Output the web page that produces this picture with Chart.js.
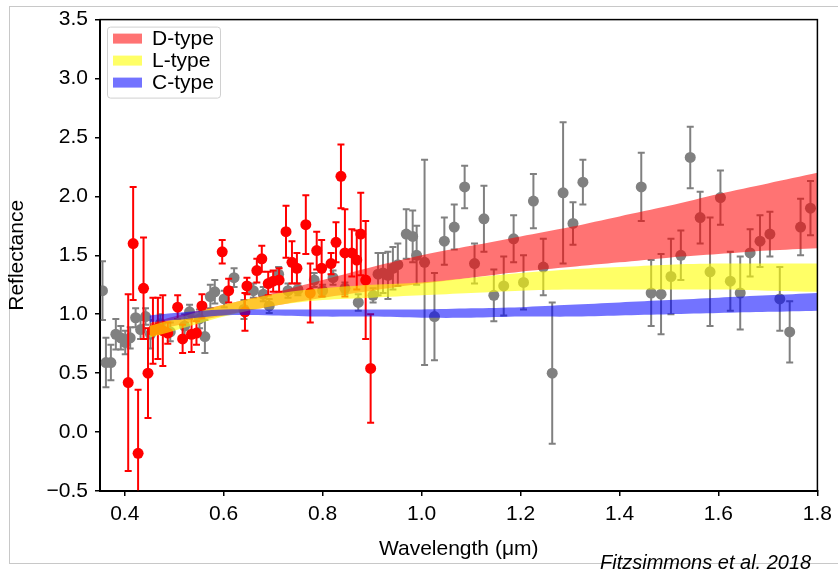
<!DOCTYPE html>
<html>
<head>
<meta charset="utf-8">
<script src="https://cdn.jsdelivr.net/npm/chart.js@4.4.1/dist/chart.umd.min.js"></script>
<style>
  body { margin: 0; background: #fff; }
  #wrap { position: relative; width: 838px; height: 575px; overflow: hidden; }
  #frame { position: absolute; left: 9px; top: 6px; width: 840px; height: 556px; border: 1px solid #c8c8c8; border-right: none; }
  #cite { position: absolute; left: 600px; top: 551px; font: italic 20px "Liberation Sans", Arial, sans-serif; color: #000; white-space: nowrap; }
  canvas { position: absolute; left: 0; top: 0; }
</style>
</head>
<body>
<div id="wrap">
  <div id="frame"></div>
  <canvas id="myChart" width="838" height="575"></canvas>
  <div id="cite">Fitzsimmons et al. 2018</div>
</div>
<script>
// tick positions
const xTicks = [0.4, 0.6, 0.8, 1.0, 1.2, 1.4, 1.6, 1.8];
const yTicks = [-0.5, 0.0, 0.5, 1.0, 1.5, 2.0, 2.5, 3.0, 3.5];

// gray measurements (wavelength, reflectance, error)
const grayX = [0.355, 0.362, 0.372, 0.382, 0.392, 0.401, 0.411, 0.422, 0.432, 0.442, 0.452, 0.472, 0.492,
  0.521, 0.531, 0.551, 0.562, 0.573, 0.582, 0.601, 0.621, 0.641, 0.66, 0.68, 0.692, 0.711, 0.73, 0.75,
  0.783, 0.80, 0.821, 0.845, 0.872, 0.902, 0.912, 0.922, 0.932, 0.942, 0.952, 0.969, 0.982, 0.99,
  1.006, 1.026, 1.046, 1.066, 1.087, 1.107, 1.126, 1.146, 1.166, 1.186, 1.206, 1.226, 1.246, 1.264,
  1.286, 1.306, 1.326, 1.444, 1.464, 1.484, 1.504, 1.524, 1.543, 1.563, 1.583, 1.604, 1.624, 1.644,
  1.664, 1.684, 1.704, 1.724, 1.744, 1.766, 1.786];
const grayY = [1.20, 0.59, 0.59, 0.83, 0.80, 0.76, 0.80, 0.97, 0.87, 0.98, 0.83, 0.92, 0.85,
  0.90, 1.02, 0.96, 0.81, 1.15, 1.19, 1.13, 1.31, 1.04, 1.20, 1.17, 1.07, 1.34, 1.20, 1.21,
  1.29, 1.20, 1.31, 1.22, 1.10, 1.16, 1.34, 1.35, 1.33, 1.39, 1.42, 1.68, 1.66, 1.50,
  1.44, 0.98, 1.62, 1.74, 2.08, 1.43, 1.81, 1.16, 1.24, 1.64, 1.27, 1.96, 1.40, 0.50,
  2.03, 1.77, 2.12, 2.08, 1.18, 1.17, 1.32, 1.50, 2.33, 1.82, 1.36, 1.99, 1.28, 1.18,
  1.52, 1.62, 1.68, 1.13, 0.85, 1.74, 1.90];
const grayErr = [0.25, 0.21, 0.15, 0.13, 0.10, 0.10, 0.09, 0.08, 0.08, 0.07, 0.12, 0.08, 0.08,
  0.10, 0.06, 0.08, 0.14, 0.10, 0.10, 0.07, 0.08, 0.08, 0.06, 0.06, 0.06, 0.06, 0.06, 0.05,
  0.06, 0.05, 0.06, 0.05, 0.07, 0.06, 0.18, 0.17, 0.20, 0.18, 0.18, 0.21, 0.22, 0.25,
  0.87, 0.37, 0.20, 0.19, 0.18, 0.17, 0.28, 0.22, 0.25, 0.20, 0.23, 0.23, 0.24, 0.60,
  0.60, 0.18, 0.19, 0.29, 0.28, 0.34, 0.32, 0.21, 0.26, 0.22, 0.46, 0.23, 0.25, 0.31,
  0.20, 0.22, 0.19, 0.27, 0.26, 0.24, 0.23];

// red measurements
const redX = [0.407, 0.417, 0.427, 0.438, 0.447, 0.457, 0.467, 0.477, 0.487, 0.507, 0.517, 0.535, 0.545,
  0.556, 0.597, 0.61, 0.643, 0.647, 0.667, 0.677, 0.69, 0.70, 0.712, 0.726, 0.738, 0.748, 0.766,
  0.775, 0.788, 0.798, 0.817, 0.827, 0.837, 0.845, 0.859, 0.869, 0.877, 0.887, 0.897];
const redY = [0.42, 1.60, -0.18, 1.22, 0.50, 0.86, 0.88, 0.86, 0.84, 1.06, 0.79, 0.83, 0.84,
  1.07, 1.53, 1.20, 1.02, 1.24, 1.37, 1.47, 1.26, 1.28, 1.29, 1.70, 1.44, 1.39, 1.76,
  1.18, 1.54, 1.39, 1.43, 1.61, 2.17, 1.52, 1.52, 1.46, 1.68, 1.29, 0.54];
const redErr = [0.75, 0.48, 0.54, 0.43, 0.38, 0.28, 0.26, 0.30, 0.09, 0.10, 0.12, 0.15, 0.10,
  0.10, 0.10, 0.10, 0.16, 0.07, 0.10, 0.11, 0.10, 0.09, 0.10, 0.22, 0.18, 0.13, 0.25,
  0.25, 0.16, 0.24, 0.09, 0.17, 0.27, 0.37, 0.20, 0.25, 0.35, 0.50, 0.46];

// taxonomic type envelopes
const bandX = [0.45, 0.5, 0.6, 0.7, 0.8, 0.9, 1.0, 1.1, 1.2, 1.3, 1.4, 1.5, 1.6, 1.7, 1.8];
const dLow  = [0.84, 0.90, 0.99, 1.07, 1.14, 1.20, 1.26, 1.31, 1.36, 1.40, 1.44, 1.48, 1.51, 1.54, 1.56];
const dHigh = [0.92, 0.98, 1.08, 1.18, 1.29, 1.40, 1.50, 1.58, 1.66, 1.74, 1.83, 1.92, 2.02, 2.11, 2.20];
const lLow  = [0.80, 0.86, 0.98, 1.07, 1.12, 1.14, 1.16, 1.18, 1.20, 1.21, 1.21, 1.21, 1.21, 1.20, 1.19];
const lHigh = [0.90, 0.96, 1.08, 1.17, 1.22, 1.25, 1.27, 1.31, 1.35, 1.38, 1.40, 1.42, 1.43, 1.43, 1.43];
const cLow  = [0.93, 0.95, 0.99, 0.99, 0.98, 0.98, 0.97, 0.97, 0.98, 0.98, 0.99, 1.00, 1.01, 1.02, 1.03];
const cHigh = [0.99, 1.01, 1.04, 1.04, 1.04, 1.04, 1.04, 1.05, 1.06, 1.08, 1.10, 1.12, 1.14, 1.16, 1.18];

function pts(xs, ys) {
    return xs.map((x, i) => ({ x: x, y: ys[i] }));
}

const FONT = '"Liberation Sans", Arial, sans-serif';
Chart.defaults.font.family = FONT;
Chart.defaults.font.size = 21;
Chart.defaults.color = '#000';

// error bars go under the points of the same dataset
const errorBars = {
    id: 'errorBars',
    beforeDatasetDraw(chart, args) {
        const ds = chart.data.datasets[args.index];
        if (!ds.errors) return;
        const ctx = chart.ctx;
        const a = chart.chartArea;
        const xs = chart.scales.x, ys = chart.scales.y;
        ctx.save();
        ctx.beginPath();
        ctx.rect(a.left, a.top, a.right - a.left, a.bottom - a.top);
        ctx.clip();
        ctx.strokeStyle = ds.backgroundColor;
        ctx.lineWidth = 2;
        ds.data.forEach((p, i) => {
            const e = ds.errors[i];
            const px = xs.getPixelForValue(p.x);
            const top = ys.getPixelForValue(p.y + e);
            const bot = ys.getPixelForValue(p.y - e);
            ctx.beginPath();
            ctx.moveTo(px, top); ctx.lineTo(px, bot);
            ctx.moveTo(px - 3.5, top); ctx.lineTo(px + 3.5, top);
            ctx.moveTo(px - 3.5, bot); ctx.lineTo(px + 3.5, bot);
            ctx.stroke();
        });
        ctx.restore();
    }
};

// box frame + legend inside the plot
const insideLegend = {
    id: 'insideLegend',
    afterDraw(chart) {
        const ctx = chart.ctx;
        const a = chart.chartArea;
        ctx.save();
        ctx.strokeStyle = '#000';
        ctx.lineWidth = 1.5;
        ctx.strokeRect(a.left, a.top, a.right - a.left, a.bottom - a.top);

        const items = chart.data.datasets.filter(d => d.inLegend);
        const x0 = a.left + 7, y0 = a.top + 7;
        const w = 113, rowH = 22, h = items.length * rowH + 5;
        ctx.fillStyle = 'rgba(255,255,255,0.85)';
        ctx.strokeStyle = '#d0d0d0';
        ctx.lineWidth = 1;
        ctx.beginPath();
        ctx.roundRect(x0 + 0.5, y0 + 0.5, w, h, 3);
        ctx.fill();
        ctx.stroke();
        ctx.font = '21px ' + FONT;
        ctx.textBaseline = 'middle';
        items.forEach((d, i) => {
            const cy = y0 + 12 + i * rowH;
            ctx.fillStyle = d.backgroundColor;
            ctx.fillRect(x0 + 6, cy - 5, 29, 10);
            ctx.fillStyle = '#000';
            ctx.fillText(d.label, x0 + 45, cy + 1);
        });
        ctx.restore();
    }
};

function bandLine(label, ys, color, order, fill) {
    return {
        type: 'line',
        label: label,
        data: pts(bandX, ys),
        borderColor: 'transparent',
        borderWidth: 0,
        backgroundColor: color,
        pointRadius: 0,
        tension: 0.3,
        fill: fill,
        order: order,
        inLegend: fill !== false
    };
}

const ctx = document.getElementById('myChart').getContext('2d');
new Chart(ctx, {
    type: 'scatter',
    data: {
        datasets: [
            {
                label: 'gray', data: pts(grayX, grayY), errors: grayErr,
                backgroundColor: '#808080', pointRadius: 5.5, pointBorderWidth: 0, order: 6
            },
            {
                label: 'red', data: pts(redX, redY), errors: redErr,
                backgroundColor: '#ff0000', pointRadius: 5.5, pointBorderWidth: 0, order: 5
            },
            bandLine('D-type low', dLow, 'rgba(255,0,0,0.55)', 3, false),
            bandLine('D-type', dHigh, 'rgba(255,0,0,0.55)', 3, '-1'),
            bandLine('L-type low', lLow, 'rgba(255,255,0,0.6)', 2, false),
            bandLine('L-type', lHigh, 'rgba(255,255,0,0.6)', 2, '-1'),
            bandLine('C-type low', cLow, 'rgba(0,0,255,0.55)', 1, false),
            bandLine('C-type', cHigh, 'rgba(0,0,255,0.55)', 1, '-1')
        ]
    },
    options: {
        responsive: false,
        animation: false,
        layout: { padding: { left: 0, right: 18, top: 15, bottom: 0 } },
        plugins: {
            legend: { display: false },
            tooltip: { enabled: false }
        },
        scales: {
            x: {
                type: 'linear',
                min: 0.35,
                max: 1.8,
                afterBuildTicks: s => { s.ticks = xTicks.map(v => ({ value: v })); },
                afterFit: s => { s.height = 84; },
                ticks: { padding: 6, callback: v => v.toFixed(1), maxRotation: 0 },
                grid: { drawOnChartArea: false, color: '#000', tickLength: 5, lineWidth: 1.5 },
                border: { color: '#000', width: 2 },
                title: { display: true, text: 'Wavelength (\u03bcm)', padding: { top: 0, bottom: 13 } }
            },
            y: {
                min: -0.5,
                max: 3.5,
                afterBuildTicks: s => { s.ticks = yTicks.map(v => ({ value: v })); },
                afterFit: s => { s.width = 100; },
                ticks: { padding: 7, callback: v => v.toFixed(1).replace('-', '\u2212') },
                grid: { drawOnChartArea: false, color: '#000', tickLength: 5, lineWidth: 1.5 },
                border: { color: '#000', width: 2 },
                title: { display: true, text: 'Reflectance', padding: { top: 5, bottom: 0 } }
            }
        }
    },
    plugins: [errorBars, insideLegend]
});
</script>
</body>
</html>
